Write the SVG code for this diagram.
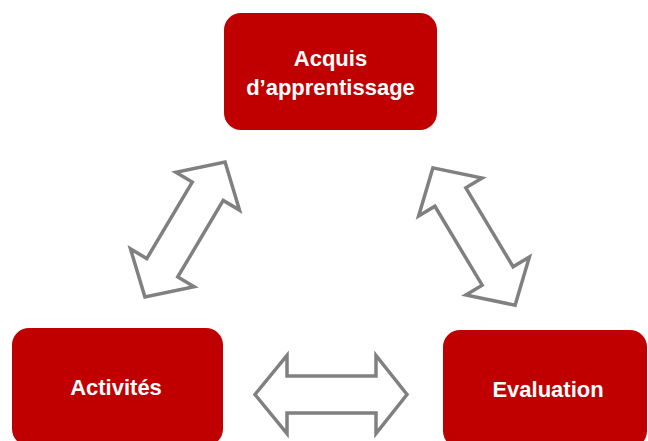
<svg xmlns="http://www.w3.org/2000/svg" width="648" height="441" viewBox="0 0 648 441">
<style>
.box{fill:#c00000;}
.lbl{font-family:"Liberation Sans",Arial,sans-serif;font-weight:bold;font-size:22px;fill:#ffffff;text-anchor:middle;}
.arr{fill:#ffffff;stroke:#808080;stroke-width:3.5;stroke-linejoin:miter;}
</style>
<rect width="648" height="441" fill="#ffffff"/>
<g id="connectors">
<polygon class="arr" transform="translate(185,229.5) rotate(-59.3)" points="-78.5,0 -44.5,-37 -44.5,-18 44.5,-18 44.5,-37 78.5,0 44.5,37 44.5,18 -44.5,18 -44.5,37"/>
<polygon class="arr" transform="translate(474,236.5) rotate(59.1)" points="-80,0 -46,-37 -46,-18 46,-18 46,-37 80,0 46,37 46,18 -46,18 -46,37"/>
<polygon class="arr" transform="translate(331,394.5)" points="-76,0 -44,-39 -44,-18.5 45,-18.5 45,-39 76,0 45,39 45,18.5 -44,18.5 -44,39"/>
</g>
<g id="node-acquis">
<rect class="box" x="224" y="13" width="213" height="117" rx="17"/>
<text class="lbl" x="330.5" y="66">Acquis</text>
<text class="lbl" x="330.5" y="95">d’apprentissage</text>
</g>
<g id="node-activites">
<rect class="box" x="12" y="328" width="211" height="118" rx="17"/>
<text class="lbl" x="116" y="395">Activités</text>
</g>
<g id="node-evaluation">
<rect class="box" x="443" y="330" width="204" height="118" rx="17"/>
<text class="lbl" x="548" y="397">Evaluation</text>
</g>
</svg>
